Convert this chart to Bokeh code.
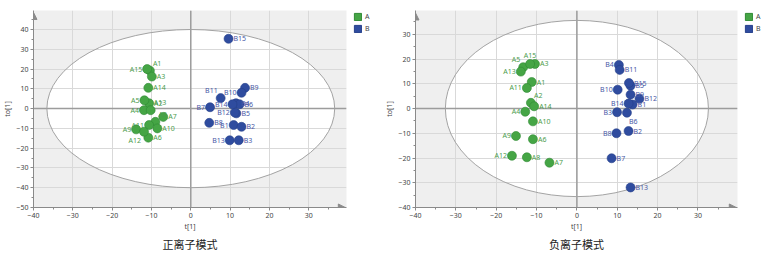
from bokeh.plotting import figure
from bokeh.models import (ColumnDataSource, SingleIntervalTicker, Span, Arrow,
                          NormalHead, Title, Legend, LegendItem, Range1d)
from bokeh.layouts import row
from bokeh.embed import file_html
from bokeh.resources import INLINE
from bokeh.core.properties import value

# ---------------- data ----------------
A_NAMES = ["A1", "A2", "A3", "A4", "A5", "A6", "A7", "A8", "A9", "A10",
           "A11", "A12", "A13", "A14", "A15"]
B_NAMES = ["B1", "B2", "B3", "B4", "B5", "B6", "B7", "B8", "B9", "B10",
           "B11", "B12", "B13", "B14", "B15"]

# positive ion mode: t[1], to[1]
POS_A_T1 = [-10.4, -10.6, -9.9, -11.9, -11.8, -10.8, -7.0, -9.0, -13.9, -8.5,
            -10.6, -11.9, -10.2, -10.8, -11.1]
POS_A_TO1 = [19.2, 2.7, 16.2, -0.8, 4.2, -14.7, -4.2, -6.7, -10.5, -10.0,
             -8.3, -11.7, -0.8, 10.5, 20.0]
POS_B_T1 = [10.9, 12.9, 12.2, 11.5, 11.6, 12.4, 4.9, 4.7, 13.8, 12.9,
            7.6, 11.2, 9.9, 10.6, 9.6]
POS_B_TO1 = [-8.3, -9.2, -16.0, 2.7, -2.4, 2.2, 0.7, -7.2, 10.5, 8.0,
             5.3, -2.0, -16.0, 2.2, 35.3]

# negative ion mode: t[1], to[1]
NEG_A_T1 = [-11.2, -11.4, -10.4, -12.8, -13.3, -10.9, -6.8, -12.4, -15.1, -10.9,
            -12.4, -16.1, -13.9, -10.6, -11.6]
NEG_A_TO1 = [10.7, 2.3, 18.0, -1.3, 16.7, -12.4, -21.9, -19.7, -11.1, -5.2,
             8.3, -19.1, 14.9, 0.9, 18.0]
NEG_B_T1 = [13.8, 12.8, 9.95, 10.4, 13.3, 12.4, 8.6, 9.8, 13.3, 10.1,
            10.6, 15.5, 13.3, 12.8, 12.9]
NEG_B_TO1 = [1.6, -9.1, -1.5, 17.6, 9.2, -1.7, -20.1, -10.0, 5.6, 7.6,
             15.6, 3.9, -31.9, 2.0, 10.3]

# Hotelling T2 ellipse semi-axes (t[1], to[1])
POS_ELLIPSE = (36.6, 40.0)
NEG_ELLIPSE = (32.6, 35.6)

POS_XRANGE = (-40, 39.6)
POS_YRANGE = (-50, 49.6)
NEG_XRANGE = (-40, 39.8)
NEG_YRANGE = (-40, 39.6)

TITLES = ["正离子模式", "负离子模式"]
GROUPS = ["A", "B"]

# ---------------- label placement (style) ----------------
POS_A_ANCH = ["ur", "r", "r", "l", "l", "r", "r", "ur", "l", "r",
              "l", "dl", "ur", "r", "l"]
POS_B_ANCH = ["l", "r", "r", "r", "r", "r", "l", "r", "r", "l",
              "ul", "l", "l", "l", "r"]
NEG_A_ANCH = ["r", "ur", "r", "l", "ul", "r", "r", "r", "l", "r",
              "l", "l", "l", "r", "u"]
NEG_B_ANCH = ["r", "r", "l", "l", "r", "d", "r", "l", "r", "l",
              "r", "r", "r", "l", "r"]

ANCHORS = {
    "r": (5, 0, "left", "middle"),
    "l": (-5, 0, "right", "middle"),
    "ur": (3, -3, "left", "bottom"),
    "ul": (-3, -3, "right", "bottom"),
    "u": (0, -4, "center", "bottom"),
    "d": (2, 4, "left", "top"),
    "dl": (-3, 4, "right", "top"),
}

GREEN = "#45a545"
GREEN_LINE = "#2f8a34"
GREEN_TXT = "#4c9c4c"
BLUE = "#2f4c9f"
BLUE_LINE = "#253f8a"
BLUE_TXT = "#4858a6"
AX = "#8a8a8a"
FONT = "Noto Sans"
FH = 197
LEG_FIG_H = 240
NAN = float("nan")


def make_panel(title, ax_, ay_, aanch, bx_, by_, banch, xr, yr, ell,
               border_left, frame_w, border_right):
    p = figure(output_backend="svg", toolbar_location=None,
               frame_width=frame_w, frame_height=FH,
               min_border_left=border_left, min_border_right=border_right,
               min_border_top=10, min_border_bottom=0,
               x_range=Range1d(*xr), y_range=Range1d(*yr),
               background_fill_color="#efefef", border_fill_color="white",
               outline_line_color=None)

    # ellipse interior (drawn beneath grid) and outline
    p.ellipse(x=[0], y=[0], width=[2 * ell[0]], height=[2 * ell[1]],
              fill_color="white", line_color=None, level="image")
    p.ellipse(x=[0], y=[0], width=[2 * ell[0]], height=[2 * ell[1]],
              fill_color=None, line_color="#a3a3a3", line_width=1)

    for ax in (p.xaxis[0], p.yaxis[0]):
        ax.ticker = SingleIntervalTicker(interval=10, num_minor_ticks=2)
        ax.axis_line_color = AX
        ax.major_tick_line_color = AX
        ax.minor_tick_line_color = AX
        ax.major_tick_in = 0
        ax.major_tick_out = 3
        ax.minor_tick_in = 0
        ax.minor_tick_out = 2
        ax.major_label_text_font_size = "7px"
        ax.major_label_text_color = "#444444"
        ax.major_label_text_font = FONT
        ax.major_label_standoff = 2
        ax.axis_label_text_font_size = "7px"
        ax.axis_label_text_font_style = "normal"
        ax.axis_label_text_color = "#444444"
        ax.axis_label_text_font = FONT
        ax.axis_label_standoff = 1
    p.xaxis.axis_label = "t[1]"
    p.yaxis.axis_label = "to[1]"
    p.grid.grid_line_color = "#d9d9d9"
    p.grid.grid_line_width = 1

    p.add_layout(Span(location=0, dimension="height", line_color="#9c9c9c",
                      line_width=1.5, level="underlay"))
    p.add_layout(Span(location=0, dimension="width", line_color="#9c9c9c",
                      line_width=1.5, level="underlay"))

    # axis arrows
    p.add_layout(Arrow(end=NormalHead(size=7, fill_color=AX, line_color=AX),
                       x_start=xr[0], y_start=yr[1] - 3, x_end=xr[0], y_end=yr[1] - 1,
                       line_alpha=0))
    p.add_layout(Arrow(end=NormalHead(size=7, fill_color=AX, line_color=AX),
                       x_start=xr[1] - 3, y_start=yr[0], x_end=xr[1] - 0.3, y_end=yr[0],
                       line_alpha=0))

    groups = [(A_NAMES, ax_, ay_, aanch, GREEN, GREEN_LINE, GREEN_TXT),
              (B_NAMES, bx_, by_, banch, BLUE, BLUE_LINE, BLUE_TXT)]
    for names, xs, ys, anch, fc, lc, tc in groups:
        src = ColumnDataSource(dict(x=xs, y=ys, name=names))
        p.scatter("x", "y", source=src, size=9, fill_color=fc, line_color=lc,
                  line_width=0.6)
        for key, (dx, dy, al, bl) in ANCHORS.items():
            idx = [i for i, a in enumerate(anch) if a == key]
            if not idx:
                continue
            s = ColumnDataSource(dict(x=[xs[i] for i in idx], y=[ys[i] for i in idx],
                                      name=[names[i] for i in idx]))
            p.text("x", "y", text="name", source=s, x_offset=dx, y_offset=dy,
                   text_align=al, text_baseline=bl, text_color=tc,
                   text_font_size="7px", text_font=value(FONT))

    t = Title(text=title, align="center", text_font="Noto Sans CJK SC",
              text_font_size="11px", text_font_style="normal",
              text_color="#222222", standoff=0)
    p.add_layout(t, "below")
    return p


def make_legend(width):
    lf = figure(output_backend="svg", toolbar_location=None,
                width=width, height=LEG_FIG_H, min_border=0,
                x_axis_location=None, y_axis_location=None,
                x_range=Range1d(0, 1), y_range=Range1d(0, 1),
                outline_line_color=None, background_fill_color="white")
    lf.grid.visible = False
    rs = [lf.quad(left=[NAN], right=[NAN], top=[NAN], bottom=[NAN],
                  fill_color=fc, line_color=lc)
          for fc, lc in ((GREEN, GREEN_LINE), (BLUE, BLUE_LINE))]
    legend = Legend(items=[LegendItem(label=g, renderers=[r])
                           for g, r in zip(GROUPS, rs)],
                    location="top_left",
                    border_line_color=None, background_fill_alpha=0,
                    padding=0, margin=2, spacing=3,
                    glyph_width=9, glyph_height=9, label_standoff=3,
                    label_height=9, label_text_font_size="7px",
                    label_text_font=FONT, label_text_color="#444444")
    lf.add_layout(legend)
    return lf


p1 = make_panel(TITLES[0], POS_A_T1, POS_A_TO1, POS_A_ANCH,
                POS_B_T1, POS_B_TO1, POS_B_ANCH,
                POS_XRANGE, POS_YRANGE, POS_ELLIPSE, 26, 313, 5)
l1 = make_legend(22)
p2 = make_panel(TITLES[1], NEG_A_T1, NEG_A_TO1, NEG_A_ANCH,
                NEG_B_T1, NEG_B_TO1, NEG_B_ANCH,
                NEG_XRANGE, NEG_YRANGE, NEG_ELLIPSE, 42, 322, 5)
l2 = make_legend(20)

layout = row(p1, l1, p2, l2)
open("out.html", "w").write(file_html(layout, INLINE))
